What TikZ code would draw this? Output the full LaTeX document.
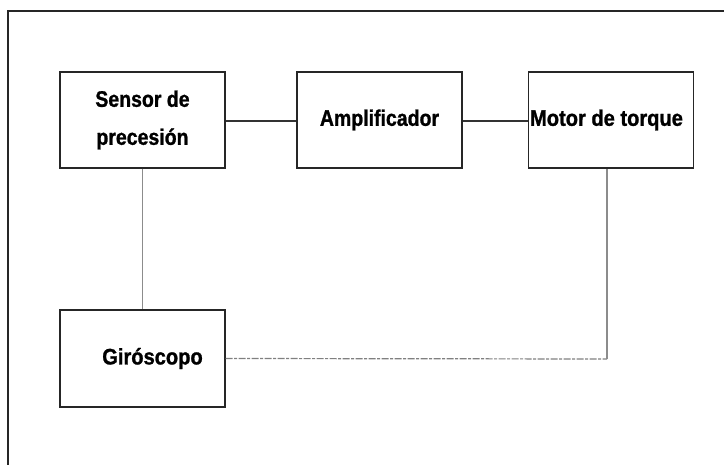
\documentclass[tikz,border=0pt]{standalone}
\usepackage{fontspec}
\setmainfont{Liberation Sans}
\newfontfamily\blkfont{Liberation Sans}[BoldFeatures={FakeBold=1.2}]
\newcommand{\tall}[1]{\scalebox{1}[1.15]{#1}}
\begin{document}
\begin{tikzpicture}[x=1pt,y=-1pt,
  blk/.style={draw=black!85,line width=1.3pt,minimum width=165pt,inner sep=0pt,font=\blkfont\fontsize{19.5}{38}\selectfont\bfseries,align=center},
  wire/.style={draw=black!80,line width=1.1pt},
  gwire/.style={draw=black!45,line width=1.4pt},
  dwire/.style={draw=black!50,line width=1.2pt,dash pattern=on 7pt off 1.5pt on 3pt off 1.5pt}]
\useasboundingbox (0,0) rectangle (724,464);
\draw[line width=1.3pt,black!85] (8,470) -- (8,11) -- (730,11);
\node[blk,minimum height=96pt] (sen) at (142.5,120) {\tall{Sensor de}\\\tall{precesión}};
\node[blk,minimum height=96pt] (amp) at (379.5,120) {\tall{Amplificador}};
\node[blk,minimum height=96pt] (mot) at (611,120) {\hspace*{-9pt}\scalebox{1.03}[1.15]{Motor de torque}};
\node[blk,minimum height=97pt] (gir) at (142.5,358.5) {\hspace*{20pt}\scalebox{1.03}[1.15]{Giróscopo}};
\draw[wire] ([yshift=-1pt]sen.east) -- ([yshift=-1pt]amp.west);
\draw[wire] ([yshift=-1pt]amp.east) -- ([yshift=-1pt]mot.west);
\draw[gwire] (sen.south) -- (gir.north);
\coordinate (c1) at (607,359);
\draw[dwire] (gir.east) -- (c1);
\draw[gwire] (c1) -- (mot.south -| c1);
\end{tikzpicture}
\end{document}
